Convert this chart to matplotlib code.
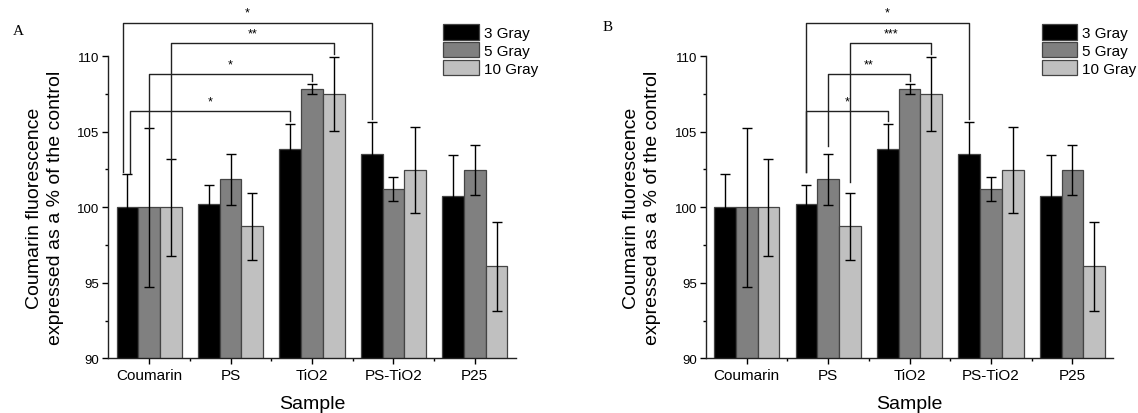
import numpy as np
import matplotlib.pyplot as plt
from matplotlib.ticker import FixedLocator

plt.rcParams['font.family'] = ['Liberation Sans', 'DejaVu Sans']

samples = ['Coumarin', 'PS', 'TiO2', 'PS-TiO2', 'P25']
doses = ['3 Gray', '5 Gray', '10 Gray']

# mean fluorescence (% of control) and SD for each dose
gray3 = [100.0, 100.2, 103.85, 103.55, 100.73]
gray5 = [100.0, 101.85, 107.85, 101.2, 102.45]
gray10 = [100.0, 98.74, 107.5, 102.49, 96.1]
err3 = [2.2, 1.3, 1.65, 2.07, 2.75]
err5 = [5.25, 1.7, 0.33, 0.77, 1.65]
err10 = [3.2, 2.2, 2.47, 2.85, 2.95]

means = [gray3, gray5, gray10]
errs = [err3, err5, err10]
colors = ['#000000', '#808080', '#c0c0c0']

# significance brackets: (group, dose) -> (group, dose), level, stars, left pad, left shift
sig_A = [((0, 0), (3, 0), 112.22, '*', 0.15, -0.055),
         ((0, 2), (2, 2), 110.89, '**', 0.0, 0.0),
         ((0, 1), (2, 1), 108.80, '*', 0.0, 0.0),
         ((0, 0), (2, 0), 106.39, '*', 0.1, 0.03)]
sig_B = [((1, 0), (3, 0), 112.22, '*', 0.85, -0.01),
         ((1, 2), (2, 2), 110.89, '***', 0.7, 0.0),
         ((1, 1), (2, 1), 108.80, '**', 0.5, 0.0),
         ((1, 0), (2, 0), 106.39, '*', 0.85, 0.0)]

width = 0.8 / 3
x = np.arange(len(samples))


def bar_pos(g, d):
    return x[g] + (d - 1) * width


def err_top(g, d):
    return means[d][g] + errs[d][g]


def panel(ax, sig, letter, letter_x, letter_y):
    for d in range(3):
        ax.bar(x + (d - 1) * width, means[d], width, bottom=0,
               color=colors[d], edgecolor='#444444', linewidth=0.9,
               label=doses[d], zorder=2)
        ax.errorbar(x + (d - 1) * width, means[d], yerr=errs[d], fmt='none',
                    ecolor='#000000', elinewidth=1.0, capsize=3.3,
                    capthick=1.0, zorder=3)

    for (g1, d1), (g2, d2), level, stars, lpad, lshift in sig:
        x1 = bar_pos(g1, d1) + lshift
        x2 = bar_pos(g2, d2)
        y1 = err_top(g1, d1) + lpad
        y2 = err_top(g2, d2) + 0.2
        ax.plot([x1, x1, x2, x2], [y1, level, level, y2], color='#222222',
                lw=1.0, clip_on=False, zorder=4)
        ax.text((x1 + x2) / 2, level + 0.25, stars, ha='center', va='bottom',
                fontsize=9, clip_on=False)

    ax.set_xlim(-0.5, 4.5)
    ax.set_ylim(90, 112.6)
    ax.spines['top'].set_visible(False)
    ax.spines['right'].set_visible(False)
    ax.spines['left'].set_bounds(90, 110)
    for s in ('left', 'bottom'):
        ax.spines[s].set_linewidth(1.0)
        ax.spines[s].set_color('#222222')

    ax.set_yticks([90, 95, 100, 105, 110])
    ax.yaxis.set_minor_locator(FixedLocator([92.5, 97.5, 102.5, 107.5]))
    ax.set_xticks(x)
    ax.set_xticklabels(samples)
    ax.xaxis.set_minor_locator(FixedLocator(x[:-1] + 0.5))
    ax.tick_params(axis='y', which='major', direction='out', length=4.5,
                   width=1.0, labelsize=9.5, pad=2)
    ax.tick_params(axis='y', which='minor', direction='out', length=2.5,
                   width=1.0)
    ax.tick_params(axis='x', which='major', direction='out', length=4.0,
                   width=1.0, labelsize=11, pad=3)
    ax.tick_params(axis='x', which='minor', direction='out', length=2.5,
                   width=1.0)

    ax.set_xlabel('Sample', fontsize=14)
    ax.xaxis.set_label_coords(0.5, -0.108)
    ax.set_ylabel('Coumarin fluorescence\nexpressed as a % of the control',
                  fontsize=14, linespacing=1.3)
    ax.yaxis.set_label_coords(-0.11, 10 / 22.6)

    ax.text(letter_x, letter_y, letter, transform=ax.transAxes,
            family='Liberation Serif', fontsize=11, ha='left', va='top')


fig = plt.figure(figsize=(11.38, 4.14), dpi=100)
axA = fig.add_axes([0.0953, 0.1321, 0.3577, 0.8246])
axB = fig.add_axes([0.6204, 0.1321, 0.3577, 0.8246])
panel(axA, sig_A, 'A', -0.235, 0.978)
panel(axB, sig_B, 'B', -0.254, 0.99)

for ax, lx in ((axA, 0.3896), (axB, 0.9154)):
    ax.legend(loc='upper left', bbox_to_anchor=(lx, 0.9396),
              bbox_transform=fig.transFigure, frameon=False, fontsize=11,
              borderpad=0, borderaxespad=0, handlelength=2.3,
              handleheight=1.2, handletextpad=0.33, labelspacing=0.12)

fig.savefig('out.png', dpi=100)
